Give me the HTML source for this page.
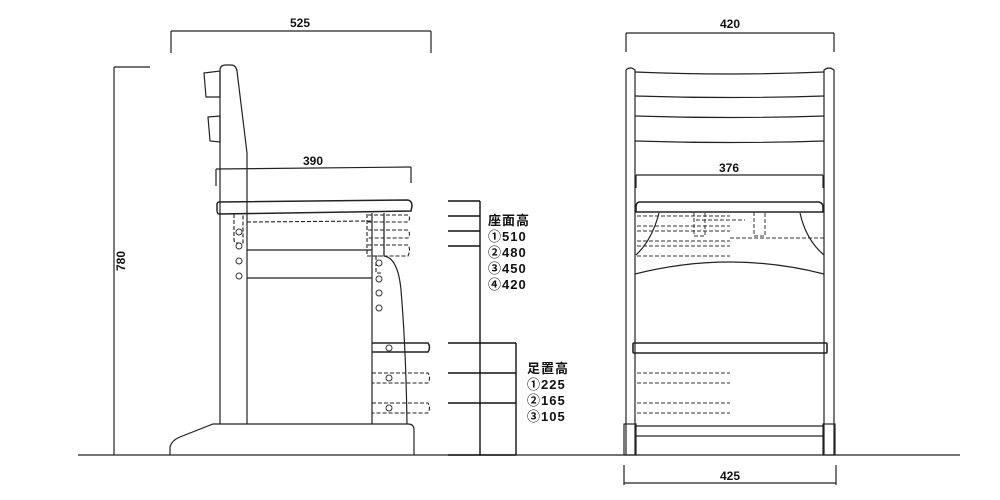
<!DOCTYPE html>
<html><head><meta charset="utf-8"><style>
html,body{margin:0;padding:0;background:#fff;}
svg{display:block;}
text{font-family:"Liberation Sans","Noto Sans CJK JP",sans-serif;font-weight:bold;fill:#111;}
</style></head><body>
<svg width="1000" height="500" viewBox="0 0 1000 500" xmlns="http://www.w3.org/2000/svg">
<g fill="none" stroke="#222" stroke-width="1.2">
<line x1="78" y1="455" x2="960" y2="455"/>
<line x1="171" y1="31" x2="431" y2="31"/>
<line x1="171" y1="31" x2="171" y2="53"/><line x1="431" y1="31" x2="431" y2="53"/>
<line x1="114" y1="67" x2="114" y2="455"/><line x1="114" y1="67" x2="150" y2="67"/>
<path d="M220,424 L220,70 Q220,65 226,65 L231,65 Q236,65 237,71 L247,153 L247,424"/>
<path d="M204,73 L220,71 L220,97 L206,97 Z"/>
<path d="M208,117 L220,116 L220,142 L210,141 Z"/>
<line x1="216" y1="169" x2="411" y2="167"/>
<line x1="216" y1="169" x2="216" y2="186"/><line x1="411" y1="167" x2="411" y2="183"/>
<path d="M219,202 L408,200 Q412,201 412,206 L411,211 L219,214 Q217,214 217,209 L217,205 Q217,202 219,202 Z" stroke-width="1.5"/>
<line x1="247" y1="250" x2="372" y2="250"/>
<line x1="247" y1="278" x2="372" y2="278"/>
<line x1="372" y1="213" x2="372" y2="424"/>
<line x1="384" y1="213" x2="384" y2="256"/>
<path d="M384,256 Q398,258 401,290 Q406,350 407,424"/>
<path d="M372,343 L428,343 Q431,347 428,352 L372,352" stroke-width="1.5"/>
<path d="M170,455 L170,447 Q172,440 180,437 L213,424 L408,424 Q414,424 414,430 L414,455"/>
</g>
<g fill="none" stroke="#222" stroke-width="1.1" stroke-dasharray="4,2">
<path d="M234,214 L234,240 Q234,243 238,243 L243,243 L243,214"/>
<line x1="247" y1="222" x2="372" y2="221"/>
<path d="M367,214 L367,256 L384,256 L384,214"/>
<path d="M368,215 L408,215 Q411,218 408,222 L368,222"/>
<path d="M368,230 L408,230 Q411,234 408,238 L368,238"/>
<path d="M368,245 L408,245 Q411,249 408,256 L368,256"/>
<path d="M376,256 L376,273 L383,273"/>
<path d="M372,373 L428,373 Q431,378 428,383 L372,383"/>
<path d="M372,403 L428,403 Q431,408 428,413 L372,413"/>
</g>
<g fill="none" stroke="#333" stroke-width="1">
<circle cx="239" cy="232" r="3"/><circle cx="239" cy="246" r="3"/><circle cx="239" cy="261" r="3"/><circle cx="239" cy="276" r="3"/>
<circle cx="379" cy="263" r="3"/><circle cx="379" cy="279" r="3"/><circle cx="379" cy="293" r="3"/><circle cx="379" cy="308" r="3"/>
<circle cx="389" cy="348" r="3"/><circle cx="389" cy="378" r="3"/><circle cx="389" cy="408" r="3"/>
</g>
<g fill="none" stroke="#111" stroke-width="1.4">
<line x1="448" y1="201" x2="480" y2="201"/><line x1="448" y1="216" x2="480" y2="216"/>
<line x1="448" y1="231" x2="480" y2="231"/><line x1="448" y1="246" x2="480" y2="246"/>
<line x1="480" y1="201" x2="480" y2="455"/>
<line x1="448" y1="343" x2="516" y2="343"/><line x1="448" y1="373" x2="516" y2="373"/>
<line x1="448" y1="403" x2="516" y2="403"/><line x1="448" y1="455" x2="516" y2="455"/>
<line x1="516" y1="343" x2="516" y2="455"/>
</g>
<g fill="none" stroke="#222" stroke-width="1.2">
<line x1="626" y1="33" x2="834" y2="33"/>
<line x1="626" y1="33" x2="626" y2="52"/><line x1="834" y1="33" x2="834" y2="52"/>
<path d="M626,455 L626,70 Q630,66 635,70 L635,455"/>
<path d="M824,455 L824,70 Q829,66 834,70 L834,455"/>
<path d="M635,72 Q730,76 824,72"/>
<path d="M635,96 Q730,99 824,96"/>
<path d="M635,116 Q730,119 824,116"/>
<path d="M635,141 Q730,144 824,141"/>
<line x1="636" y1="175" x2="823" y2="175"/>
<line x1="636" y1="175" x2="636" y2="188"/><line x1="823" y1="175" x2="823" y2="188"/>
<path d="M640,202 L819,202 Q823,203 823,207 L823,212 L636,212 L636,207 Q636,202 640,202 Z" stroke-width="1.6"/>
<path d="M635,274 Q730,250 824,274"/>
<path d="M659,213 Q652,240 636,255"/>
<path d="M800,213 Q806,240 824,255"/>
<rect x="633" y="343" width="194" height="10" rx="1" stroke-width="1.6"/>
<rect x="624" y="424" width="12" height="31"/>
<rect x="823" y="424" width="12" height="31"/>
<line x1="636" y1="426" x2="823" y2="426"/><line x1="636" y1="436" x2="823" y2="436"/>
<line x1="624" y1="483" x2="836" y2="483"/>
<line x1="624" y1="465" x2="624" y2="485"/><line x1="836" y1="465" x2="836" y2="485"/>
</g>
<g fill="none" stroke="#333" stroke-width="1" stroke-dasharray="4,2">
<line x1="637" y1="216" x2="730" y2="216"/><line x1="637" y1="226" x2="730" y2="226"/>
<line x1="637" y1="231" x2="730" y2="231"/><line x1="637" y1="241" x2="730" y2="241"/>
<line x1="637" y1="246" x2="730" y2="246"/><line x1="637" y1="256" x2="730" y2="256"/>
<line x1="696" y1="220" x2="745" y2="220"/>
<line x1="730" y1="238" x2="824" y2="238"/>
<path d="M694,212 L694,236 L705,236 L705,212"/>
<path d="M754,212 L754,236 L765,236 L765,212"/>
<line x1="637" y1="373" x2="730" y2="373"/><line x1="637" y1="383" x2="730" y2="383"/>
<line x1="637" y1="403" x2="730" y2="403"/><line x1="637" y1="413" x2="730" y2="413"/>
</g>
<text x="300" y="27" font-size="12" text-anchor="middle">525</text>
<text x="313" y="165" font-size="12" text-anchor="middle">390</text>
<text x="730" y="28" font-size="12" text-anchor="middle">420</text>
<text x="729" y="172" font-size="12" text-anchor="middle">376</text>
<text x="730" y="480" font-size="12" text-anchor="middle">425</text>
<text x="0" y="0" font-size="12" text-anchor="middle" transform="translate(125,261) rotate(-90)">780</text>
<g font-size="13" letter-spacing="1">
<text x="488" y="225">座面高</text>
<text x="488" y="241">①510</text>
<text x="488" y="257">②480</text>
<text x="488" y="273">③450</text>
<text x="488" y="289">④420</text>
<text x="527" y="373">足置高</text>
<text x="527" y="389">①225</text>
<text x="527" y="405">②165</text>
<text x="527" y="421">③105</text>
</g>
</svg>
</body></html>
